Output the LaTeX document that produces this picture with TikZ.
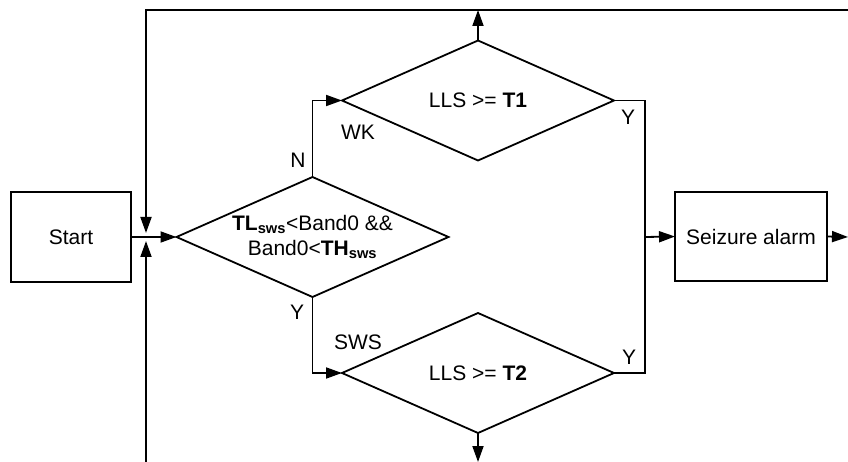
\documentclass[tikz,border=0pt]{standalone}
\usepackage{fontspec}
\setmainfont{Liberation Sans}
\usetikzlibrary{arrows.meta,shapes.geometric}
\begin{document}
\begin{tikzpicture}[x=1pt,y=-1pt,
  line width=1.8pt,
  arr/.style={-{Triangle[length=16pt,width=11pt]}},
  box/.style={draw,rectangle,inner sep=0pt,outer sep=0pt},
  dia/.style={draw,diamond,inner sep=0pt,outer sep=0pt,minimum width=272pt,minimum height=120pt},
  txt/.style={font=\fontsize{21}{25}\selectfont,inner sep=0pt,align=center},
  lab/.style={font=\fontsize{21}{25}\selectfont,inner sep=0pt}]
\useasboundingbox (0,0) rectangle (848,462);
% boxes
\node[box,minimum width=120pt,minimum height=90pt] (start) at (71,237) {};
\node[txt] (starttxt) at (start) {Start};
\node[box,minimum width=152pt,minimum height=89pt] (alarm) at (751,236.5) {};
\node[txt] (alarmtxt) at (alarm) {Seizure alarm};
% diamonds
\node[dia] (d0) at (312.5,237) {};
\node[txt] (d0txt) at (312.5,237) {\textbf{TL}\textsubscript{\textbf{sws}}<Band0 \&\&\\Band0<\textbf{TH}\textsubscript{\textbf{sws}}};
\node[dia] (d1) at (478,100.5) {};
\node[txt] (d1txt) at (d1) {LLS >= \textbf{T1}};
\node[dia] (d2) at (478,373) {};
\node[txt] (d2txt) at (d2) {LLS >= \textbf{T2}};
% coordinates
\coordinate (tl) at (146,10);
\coordinate (tr) at (849,10);
\coordinate (jt) at (146,233);
\coordinate (jb) at (146,241);
\coordinate (bl) at (146,463);
\coordinate (rx) at (645,237);
\coordinate (outR) at (848,237);
\coordinate (botD) at (478,462);
% connectors
\draw[arr] (start.east) -- (d0.west);
\draw[arr] (tr) -- (tl) -- (jt);
\draw[arr] (bl) -- (jb);
\draw[arr] (d1.north) -- (d1.north |- tl);
\draw[arr] (d0.north) |- (d1.west);
\draw[arr] (d0.south) |- (d2.west);
\draw (d1.east) -| (rx) |- (d2.east);
\draw[arr] (rx) -- (alarm.west);
\draw[arr] (alarm.east) -- (outR);
\draw[arr] (d2.south) -- (botD);
% labels
\node[lab] (lN) at (298,160) {N};
\node[lab] (lY0) at (297,312) {Y};
\node[lab] (lWK) at (358,132) {WK};
\node[lab] (lSWS) at (358,342) {SWS};
\node[lab] (lY1) at (628,117) {Y};
\node[lab] (lY2) at (629,357) {Y};
\end{tikzpicture}
\end{document}
